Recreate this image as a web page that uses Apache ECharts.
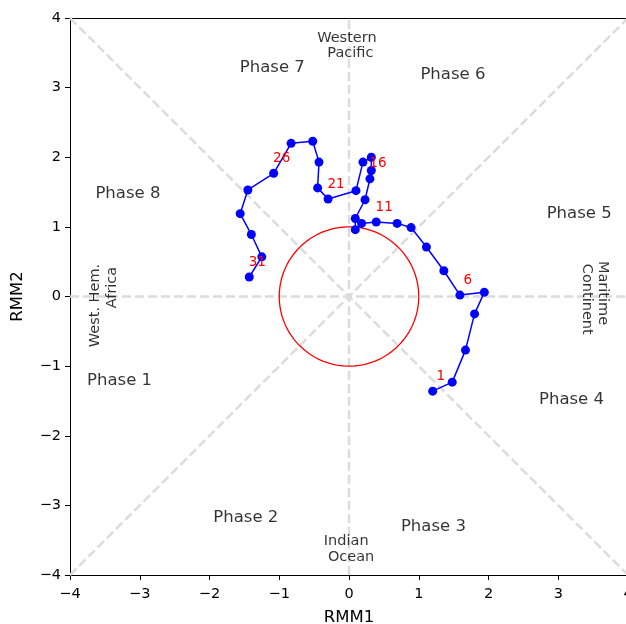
<!DOCTYPE html>
<html>
<head>
<meta charset="utf-8">
<script src="https://cdn.jsdelivr.net/npm/echarts@6/dist/echarts.min.js"></script>
<style>
  html, body { margin: 0; padding: 0; background: #ffffff; }
  #chart { width: 626px; height: 624px; }
</style>
</head>
<body>
<div id="chart"></div>
<script>
// Daily MJO index (RMM1, RMM2), days 1..31
const days = [1,2,3,4,5,6,7,8,9,10,11,12,13,14,15,16,17,18,19,20,21,22,23,24,25,26,27,28,29,30,31];
const rmm1 = [1.20, 1.48, 1.67, 1.80, 1.94, 1.59, 1.36, 1.11, 0.89, 0.69,
              0.39, 0.18, 0.09, 0.09, 0.23, 0.30, 0.32, 0.32, 0.20, 0.10,
              -0.30, -0.45, -0.43, -0.52, -0.83, -1.08, -1.45, -1.56, -1.40, -1.25,
              -1.43];
const rmm2 = [-1.36, -1.23, -0.77, -0.25, 0.06, 0.02, 0.37, 0.71, 0.99, 1.05,
              1.07, 1.05, 0.96, 1.12, 1.39, 1.69, 1.81, 2.00, 1.93, 1.52,
              1.40, 1.56, 1.93, 2.23, 2.20, 1.77, 1.53, 1.19, 0.89, 0.57,
              0.28];
// Days whose number is written next to the marker
const labeledDays = [1, 6, 11, 16, 21, 26, 31];

// Axis range and ticks
const axisMin = -4, axisMax = 4, axisStep = 1;

// Phase names and where they are written
const phaseNames = ['Phase 1', 'Phase 2', 'Phase 3', 'Phase 4', 'Phase 5', 'Phase 6', 'Phase 7', 'Phase 8'];
const phaseX = [-3.29, -1.48, 1.21, 3.19, 3.30, 1.49, -1.10, -3.17];
const phaseY = [-1.21, -3.18, -3.30, -1.48, 1.19, 3.18, 3.29, 1.48];

// Region names (one entry per text line) and their rotation in degrees
const regionText = ['Western', 'Pacific', 'Indian', 'Ocean', 'West. Hem.', 'Africa', 'Maritime', 'Continent'];
const regionX = [-0.03, 0.02, -0.04, 0.03, -3.64, -3.39, 3.64, 3.41];
const regionY = [3.71, 3.49, -3.51, -3.75, -0.13, 0.13, 0.05, -0.04];
const regionRot = [0, 0, 0, 0, 90, 90, -90, -90];

const FONT = 'DejaVu Sans';
const minus = v => String(v).replace('-', '\u2212');

// Unit circle (amplitude = 1)
const circle = [];
for (let a = 0; a <= 360; a += 2) {
  const r = a * Math.PI / 180;
  circle.push([Math.cos(r), Math.sin(r)]);
}

const guideStyle = { color: '#dcdcdc', width: 2.5, type: [9, 4] };
const guide = (pts) => ({
  type: 'line', data: pts, symbol: 'none', silent: true, z: 1,
  lineStyle: guideStyle, animation: false
});

const trackData = days.map((d, i) => {
  const item = { value: [rmm1[i], rmm2[i]], day: d };
  if (labeledDays.includes(d)) {
    item.label = {
      show: true, position: 'inside', offset: [8, -15],
      formatter: String(d), color: '#ff0000', fontSize: 13.5, fontFamily: FONT,
      textBorderWidth: 0
    };
  }
  return item;
});

const textSeries = (xs, ys, texts, rots, size) => ({
  type: 'scatter', symbolSize: 0, silent: true, z: 5, animation: false,
  data: texts.map((t, i) => ({
    value: [xs[i], ys[i]],
    label: {
      show: true, position: 'inside', formatter: t, rotate: rots ? rots[i] : 0,
      color: '#000000', fontSize: size, fontFamily: FONT, textBorderWidth: 0
    }
  }))
});

const chart = echarts.init(document.getElementById('chart'), null, { renderer: 'canvas' });
chart.setOption({
  animation: false,
  backgroundColor: '#ffffff',
  grid: { left: 70, top: 18, width: 558, height: 557, containLabel: false, outerBoundsMode: 'none' },
  xAxis: [{
    type: 'value', min: axisMin, max: axisMax, interval: axisStep,
    name: 'RMM1', nameLocation: 'middle', nameGap: 34,
    nameTextStyle: { color: '#000', fontSize: 16.5, fontFamily: FONT },
    axisLine: { show: true, onZero: false, lineStyle: { color: '#000', width: 1 } },
    axisTick: { show: true, inside: false, length: 5, lineStyle: { color: '#000' } },
    axisLabel: { color: '#000', fontSize: 14.5, fontFamily: FONT, margin: 12, formatter: minus },
    splitLine: { show: false }
  }, {
    type: 'value', position: 'top', min: axisMin, max: axisMax,
    axisLine: { show: true, onZero: false, lineStyle: { color: '#000', width: 1 } },
    axisTick: { show: false }, axisLabel: { show: false }, splitLine: { show: false }
  }],
  yAxis: {
    type: 'value', min: axisMin, max: axisMax, interval: axisStep,
    name: 'RMM2', nameLocation: 'middle', nameGap: 44, nameRotate: 90,
    nameTextStyle: { color: '#000', fontSize: 16.5, fontFamily: FONT },
    axisLine: { show: true, onZero: false, lineStyle: { color: '#000', width: 1 } },
    axisTick: { show: true, inside: false, length: 5, lineStyle: { color: '#000' } },
    axisLabel: { color: '#000', fontSize: 14.5, fontFamily: FONT, margin: 9, formatter: minus },
    splitLine: { show: false }
  },
  series: [
    guide([[0, axisMin], [0, axisMax]]),
    guide([[axisMin, 0], [axisMax, 0]]),
    guide([[axisMin, axisMin], [axisMax, axisMax]]),
    guide([[axisMin, axisMax], [axisMax, axisMin]]),
    {
      type: 'line', data: circle, symbol: 'none', silent: true, z: 2,
      lineStyle: { color: '#ff0000', width: 1.3 }
    },
    {
      type: 'line', data: trackData, z: 4,
      symbol: 'circle', symbolSize: 9, showAllSymbol: true,
      lineStyle: { color: '#0000ff', width: 1.5 },
      itemStyle: { color: '#0000ff', borderWidth: 0 },
      emphasis: { disabled: true }
    },
    textSeries(phaseX, phaseY, phaseNames, null, 16.5),
    textSeries(regionX, regionY, regionText, regionRot, 14.5)
  ]
});
</script>
</body>
</html>
